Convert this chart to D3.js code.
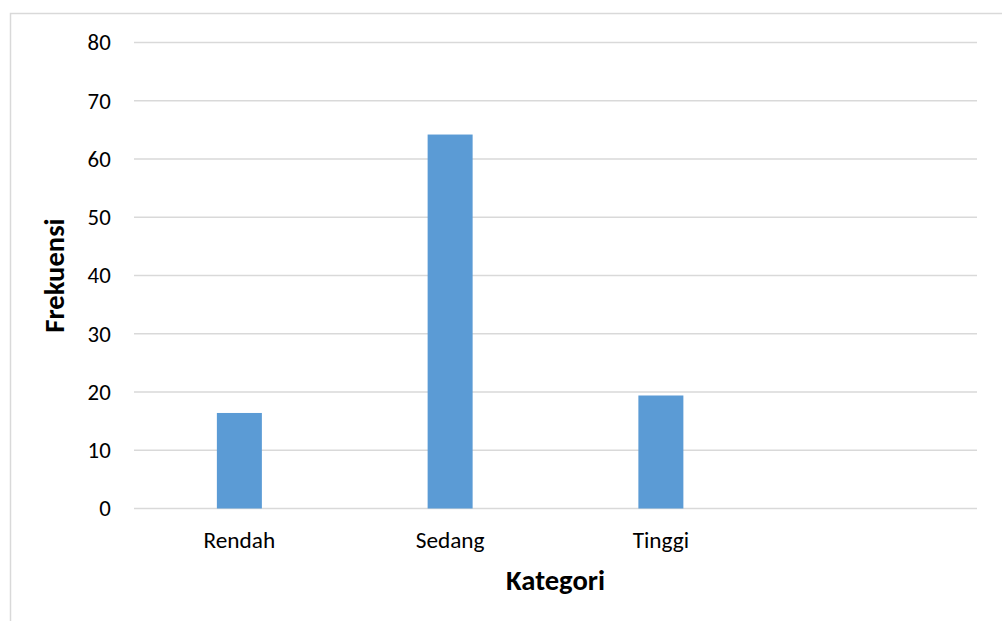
<!DOCTYPE html>
<html>
<head>
<meta charset="utf-8">
<script src="https://cdn.jsdelivr.net/npm/d3@7"></script>
<style>
  html, body { margin: 0; padding: 0; background: #ffffff; }
  svg { display: block; }
  text { font-family: Carlito, Calibri, "Open Sans", sans-serif; fill: #000; }
</style>
</head>
<body>
<svg id="chart" width="1002" height="621"></svg>
<script>
const categories = ["Rendah", "Sedang", "Tinggi", ""];
const values = [16.4, 64.2, 19.4, null];
const yTicks = [0, 10, 20, 30, 40, 50, 60, 70, 80];
const xTitle = "Kategori";
const yTitle = "Frekuensi";

const svg = d3.select("#chart");
const plot = { left: 134, right: 977, top: 42.5, bottom: 508.5 };
const FONT = "Carlito, Calibri, 'Open Sans', sans-serif";

// outer chart border (extends past the window on right and bottom)
svg.append("rect")
  .attr("x", 10.5).attr("y", 13.5)
  .attr("width", 1100).attr("height", 700)
  .attr("fill", "none").attr("stroke", "#d9d9d9").attr("stroke-width", 1.5);

const x = d3.scaleBand().domain(categories.map((c, i) => i))
  .range([plot.left, plot.right]).padding(0);
const y = d3.scaleLinear().domain([0, 80]).range([plot.bottom, plot.top]);

// gridlines
svg.append("g").selectAll("line").data(yTicks).join("line")
  .attr("x1", plot.left).attr("x2", plot.right)
  .attr("y1", d => y(d)).attr("y2", d => y(d))
  .attr("stroke", "#d9d9d9").attr("stroke-width", 1.5);

// y axis labels
const yAxis = d3.axisLeft(y).tickValues(yTicks).tickSize(0).tickPadding(0);
const gy = svg.append("g").attr("transform", `translate(${plot.left - 23.3},0)`).call(yAxis);
gy.select(".domain").remove();
gy.selectAll("text").attr("font-size", "22.8px").attr("font-family", FONT).attr("fill", "#000");

// bars
const barFrac = 45 / x.bandwidth();
const bw = x.bandwidth() * barFrac;
svg.append("g").selectAll("rect")
  .data(values.map((v, i) => ({ v, i })).filter(d => d.v != null))
  .join("rect")
  .attr("x", d => x(d.i) + (x.bandwidth() - bw) / 2)
  .attr("width", bw)
  .attr("y", d => y(d.v))
  .attr("height", d => y(0) - y(d.v))
  .attr("fill", "#5b9bd5");

// x axis labels
const xAxis = d3.axisBottom(x).tickSize(0).tickPadding(0).tickFormat(i => categories[i]);
const gx = svg.append("g").attr("transform", `translate(0,${plot.bottom + 39})`).call(xAxis);
gx.select(".domain").remove();
gx.selectAll("text").attr("font-size", "23.3px").attr("dy", 0)
  .attr("font-family", FONT).attr("fill", "#000");

// axis titles
svg.append("text")
  .attr("x", 555.5).attr("y", 589.5)
  .attr("text-anchor", "middle")
  .attr("font-size", "28.6px").attr("font-weight", "bold")
  .text(xTitle);

svg.append("text")
  .attr("transform", "translate(63.5,275.5) rotate(-90)")
  .attr("text-anchor", "middle")
  .attr("font-size", "28.6px").attr("font-weight", "bold")
  .text(yTitle);
</script>
</body>
</html>
